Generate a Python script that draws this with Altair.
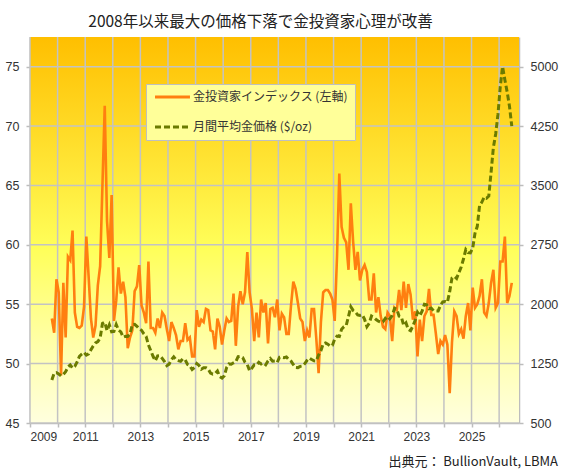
import altair as alt
import pandas as pd

# ---- data (monthly, Oct 2009 .. Jun 2026) ----
start_year = 2009
start_month = 10  # October

index_values = [
    53.8, 52.6, 57.1,                                                   # 2009 Oct-Dec
    56.0, 49.0, 56.8, 52.2, 59.0, 58.7, 61.2, 54.3, 53.1, 53.0, 53.2, 54.8,  # 2010
    60.7, 57.3, 53.8, 52.2, 53.2, 56.6, 58.2, 65.0, 71.7, 62.0, 58.9, 64.2,  # 2011
    53.6, 55.3, 58.1, 55.9, 56.9, 55.6, 51.3, 52.2, 52.8, 56.1, 56.5, 58.3,  # 2012
    54.9, 54.3, 53.4, 58.6, 53.0, 53.0, 52.6, 53.8, 53.0, 54.3, 54.0, 52.9,  # 2013
    51.9, 53.5, 53.0, 52.4, 51.2, 51.9, 51.9, 53.4, 52.0, 52.2, 50.6, 50.6,  # 2014
    54.5, 53.1, 53.7, 53.5, 54.6, 54.5, 52.8, 52.7, 51.2, 53.8, 53.1, 51.6,  # 2015
    52.8, 53.8, 53.5, 53.6, 55.9, 51.5, 54.8, 56.1, 55.0, 56.0, 59.4, 56.0,  # 2016
    54.6, 51.9, 54.3, 52.2, 55.4, 54.3, 55.1, 51.7, 54.6, 54.7, 53.9, 55.4,  # 2017
    52.8, 54.2, 53.9, 52.5, 52.5, 54.9, 56.9, 56.3, 55.1, 53.8, 53.5, 51.9,  # 2018
    52.8, 52.2, 54.6, 54.6, 52.1, 49.2, 53.5, 56.0, 56.2, 56.2, 55.9, 55.4,  # 2019
    53.6, 59.0, 66.0, 61.5, 60.6, 60.2, 57.9, 63.5, 60.3, 57.9, 59.4, 57.0,  # 2020
    57.9, 58.3, 57.7, 55.4, 55.4, 57.6, 54.3, 55.6, 54.0, 53.1, 52.9, 54.3,  # 2021
    54.0, 51.9, 54.7, 54.5, 56.2, 54.5, 56.9, 54.7, 56.7, 55.8, 53.7, 54.4,  # 2022
    50.6, 53.7, 51.9, 54.0, 54.4, 56.3, 54.1, 54.1, 52.5, 50.8, 51.9, 51.6,  # 2023
    52.4, 51.6, 47.5, 51.8, 54.4, 54.0, 52.5, 52.9, 52.1, 54.0, 55.1, 52.8,  # 2024
    56.4, 54.7, 55.0, 55.7, 57.1, 54.3, 54.0, 55.1, 56.8, 57.9, 54.7, 55.1,  # 2025
    58.6, 58.6, 60.7, 55.1, 55.7, 56.8,                                 # 2026 Jan-Jun
]

gold_values = [
    1043, 1127, 1135,
    1118, 1095, 1114, 1148, 1206, 1233, 1193, 1216, 1271, 1343, 1370, 1391,
    1357, 1372, 1424, 1474, 1511, 1529, 1573, 1756, 1772, 1666, 1739, 1652,
    1656, 1743, 1674, 1650, 1585, 1596, 1594, 1626, 1744, 1747, 1722, 1688,
    1671, 1627, 1593, 1487, 1414, 1343, 1286, 1347, 1349, 1316, 1275, 1225,
    1244, 1300, 1336, 1299, 1288, 1279, 1311, 1296, 1239, 1222, 1176, 1201,
    1251, 1227, 1179, 1198, 1199, 1181, 1131, 1117, 1125, 1157, 1086, 1068,
    1097, 1200, 1246, 1243, 1260, 1276, 1337, 1341, 1326, 1267, 1238, 1158,
    1192, 1234, 1231, 1266, 1246, 1260, 1236, 1283, 1315, 1280, 1282, 1265,
    1331, 1331, 1325, 1335, 1304, 1282, 1238, 1202, 1199, 1215, 1221, 1250,
    1292, 1320, 1301, 1285, 1284, 1359, 1413, 1500, 1511, 1495, 1471, 1480,
    1560, 1597, 1592, 1683, 1716, 1732, 1846, 1968, 1922, 1901, 1866, 1858,
    1867, 1808, 1718, 1760, 1851, 1834, 1807, 1785, 1776, 1777, 1821, 1790,
    1817, 1856, 1948, 1937, 1849, 1837, 1733, 1765, 1681, 1665, 1726, 1798,
    1898, 1855, 1912, 2000, 1992, 1943, 1951, 1918, 1916, 1916, 1986, 2030,
    2034, 2024, 2159, 2331, 2351, 2326, 2398, 2471, 2571, 2690, 2651, 2648,
    2709, 2895, 2984, 3249, 3290, 3352, 3339, 3367, 3665, 3980, 4150, 4400,
    4750, 5000, 4833, 4680, 4500, 4250,
]

series_names = ["金投資家インデックス (左軸)", "月間平均金価格 ($/oz)"]
grid_years = list(range(2009, 2027))
left_ticks = [45, 50, 55, 60, 65, 70, 75]
right_ticks = [500, 1250, 2000, 2750, 3500, 4250, 5000]
title_text = "2008年以来最大の価格下落で金投資家心理が改善"
source_text = "出典元： BullionVault, LBMA"

# ---- build tables ----
n = len(index_values)
t = [start_year + (start_month - 1) / 12 + (i + 0.5) / 12 for i in range(n)]
df_idx = pd.DataFrame({"t": t, "v": index_values, "series": series_names[0]})
df_gold = pd.DataFrame({"t": t, "v": gold_values, "series": series_names[1]})
df_vgrid = pd.DataFrame({"year": grid_years})
df_hgrid = pd.DataFrame({"lv": left_ticks})

W, H = 489, 386
GRID = "#C3C3C3"
AXC = "#BDBDBD"
LAB = "#333333"
NUMFONT = "Liberation Sans"
JPFONT = "Noto Sans CJK JP"

xscale = alt.Scale(domain=[2009, 2026.72], nice=False, zero=False)
xaxis = alt.Axis(values=grid_years, format="d",
                 labelExpr="datum.value % 2 == 1 ? datum.label : ''",
                 grid=False, title=None, domainColor=AXC, domainWidth=1.5,
                 tickColor=AXC, tickSize=4, tickWidth=1.5, labelPadding=4,
                 labelFont=NUMFONT, labelFontSize=12, labelColor=LAB)
X = alt.X("t:Q", scale=xscale, axis=xaxis)

yl_scale = alt.Scale(domain=[45, 77.5], nice=False, zero=False)
yl_axis = alt.Axis(values=left_ticks, grid=False, title=None, domainColor=AXC,
                   domainWidth=1.5, tickColor=AXC, tickSize=4, tickWidth=1.5,
                   labelPadding=7, labelFont=NUMFONT, labelFontSize=12.5,
                   labelColor=LAB)
yr_scale = alt.Scale(domain=[500, 5375], nice=False, zero=False)
yr_axis = alt.Axis(values=right_ticks, orient="right", format="d", grid=False,
                   title=None, domainColor=AXC, domainWidth=1.5, tickColor=AXC,
                   tickSize=4, tickWidth=1.5, labelPadding=7, labelFont=NUMFONT,
                   labelFontSize=12.5, labelColor=LAB)

legend = alt.Legend(title=None, orient="none", legendX=116, legendY=47,
                    fillColor="#FFFF99", strokeColor="#BFBFBF", padding=7,
                    symbolType="M-0.93,0H3.73", symbolSize=225,
                    symbolStrokeWidth=3, labelOffset=22, labelFont=JPFONT,
                    labelFontSize=12, labelColor=LAB, rowPadding=18,
                    clipHeight=12)
color = alt.Color("series:N", scale=alt.Scale(domain=series_names,
                  range=["#FF7F10", "#6B7B00"]), legend=legend)
dash = alt.StrokeDash("series:N", scale=alt.Scale(domain=series_names,
                      range=[[1, 0], [6, 3]]), legend=legend)

gradient = alt.Gradient(
    gradient="linear", x1=0, x2=0, y1=0, y2=1,
    stops=[alt.GradientStop(color="#FFBF00", offset=0),
           alt.GradientStop(color="#FFE535", offset=0.33),
           alt.GradientStop(color="#FFFF5A", offset=0.55),
           alt.GradientStop(color="#FFFFAA", offset=0.8),
           alt.GradientStop(color="#FFFFDE", offset=1)])

bg = alt.Chart(pd.DataFrame({"k": [0]})).mark_rect(fill=gradient).encode(
    x=alt.value(0), x2=alt.value(W), y=alt.value(0), y2=alt.value(H))

vgrid = alt.Chart(df_vgrid).mark_rule(color=GRID, strokeWidth=1.5).encode(
    x=alt.X("year:Q", scale=xscale, axis=xaxis))
hgrid = alt.Chart(df_hgrid).mark_rule(color=GRID, strokeWidth=1.5).encode(
    y=alt.Y("lv:Q", scale=yl_scale, axis=yl_axis))

idx_line = alt.Chart(df_idx).mark_line(strokeWidth=2.6).encode(
    x=X, y=alt.Y("v:Q", scale=yl_scale, axis=yl_axis), color=color,
    strokeDash=dash)

src = alt.Chart(pd.DataFrame({"s": [source_text]})).mark_text(
    align="right", baseline="middle", font=JPFONT, fontSize=13,
    color="#222222").encode(x=alt.value(528), y=alt.value(425), text="s:N")

left = alt.layer(bg, vgrid, hgrid, idx_line, src)

gold_line = alt.Chart(df_gold).mark_line(strokeWidth=3).encode(
    x=X, y=alt.Y("v:Q", scale=yr_scale, axis=yr_axis), color=color,
    strokeDash=dash)

chart = alt.layer(left, gold_line).resolve_scale(y="independent").properties(
    width=W, height=H,
    title=alt.Title(title_text, font=JPFONT, fontSize=15.5, fontWeight="normal",
                    color="#222222", anchor="middle", dx=-14, offset=6),
    autosize=alt.AutoSizeParams(type="none"),
    padding={"left": 30, "top": 37, "right": 44, "bottom": 50},
    background="white",
).configure_view(stroke=None)

chart.save("out.html", embed_options={"renderer": "svg", "actions": False})
